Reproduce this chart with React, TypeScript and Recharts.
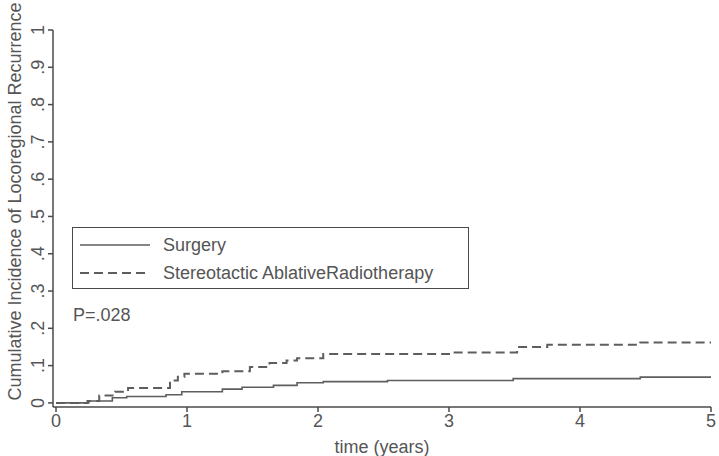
import React from 'react';
import { LineChart, Line, XAxis, YAxis } from 'recharts';

// time points (years) and cumulative incidence at each step
const surgeryYears = [0, 0.25, 0.43, 0.54, 0.84, 0.96, 1.27, 1.42, 1.66, 1.84, 2.04, 2.53, 3.49, 4.46, 5];
const surgeryIncidence = [0, 0.005, 0.014, 0.017, 0.022, 0.03, 0.037, 0.042, 0.047, 0.054, 0.057, 0.06, 0.065, 0.069, 0.069];

const sabrYears = [0, 0.24, 0.33, 0.45, 0.55, 0.87, 0.93, 0.98, 1.27, 1.48, 1.63, 1.76, 1.84, 2.04, 3.0, 3.52, 3.75, 4.46, 5];
const sabrIncidence = [0, 0.005, 0.02, 0.03, 0.04, 0.06, 0.07, 0.078, 0.085, 0.096, 0.107, 0.114, 0.12, 0.131, 0.135, 0.15, 0.156, 0.162, 0.162];

const yearTicks = [0, 1, 2, 3, 4, 5];
const incidenceTicks = [0, 0.1, 0.2, 0.3, 0.4, 0.5, 0.6, 0.7, 0.8, 0.9, 1];
const incidenceTickLabels = ['0', '.1', '.2', '.3', '.4', '.5', '.6', '.7', '.8', '.9', '1'];

const seriesNames = ['Surgery', 'Stereotactic AblativeRadiotherapy'];
const pValueText = 'P=.028';

const surgery = surgeryYears.map((t, i) => ({ t, ci: surgeryIncidence[i] }));
const sabr = sabrYears.map((t, i) => ({ t, ci: sabrIncidence[i] }));

const FONT = '"Liberation Sans", Arial, sans-serif';
const INK = '#555';
const AXIS = '#4a4a4a';
const LINE = '#5e5e5e';
const DASH = '9 5';

// Stata-style y ticks: labels turned on their side
const YTick = ({ y, payload }: any) => {
  const label = incidenceTickLabels[incidenceTicks.indexOf(payload.value)];
  return (
    <text
      x={38}
      y={y}
      transform={`rotate(-90, 38, ${y})`}
      textAnchor="middle"
      dominantBaseline="central"
      fill={INK}
      fontSize={18}
      fontFamily={FONT}
    >
      {label}
    </text>
  );
};

export default function App() {
  return (
    <div style={{ position: 'relative', width: 719, height: 456, background: '#fff', fontFamily: FONT }}>
      <style>{'body{margin:0}'}</style>
      <LineChart width={719} height={456} margin={{ top: 30, right: 8, bottom: 0, left: 0 }}>
        <XAxis
          dataKey="t"
          type="number"
          domain={[-0.023, 5]}
          allowDataOverflow
          ticks={yearTicks}
          tickSize={5}
          tickMargin={2}
          height={49}
          stroke={AXIS}
          strokeWidth={1.5}
          tick={{ fill: INK, fontSize: 18, fontFamily: FONT }}
          label={{ value: 'time (years)', position: 'insideBottom', offset: 3, fill: INK, fontSize: 18, fontFamily: FONT }}
        />
        <YAxis
          type="number"
          domain={[-0.011, 1]}
          allowDataOverflow
          ticks={incidenceTicks}
          tickSize={5}
          width={53}
          stroke={AXIS}
          strokeWidth={1.5}
          tick={<YTick />}
          label={{
            value: 'Cumulative Incidence of Locoregional Recurrence',
            angle: -90,
            position: 'center',
            dx: -12,
            dy: -17,
            fill: INK,
            fontSize: 18,
            fontFamily: FONT,
          }}
        />
        <Line
          data={surgery}
          dataKey="ci"
          type="stepAfter"
          stroke={LINE}
          strokeWidth={1.6}
          dot={false}
          isAnimationActive={false}
        />
        <Line
          data={sabr}
          dataKey="ci"
          type="stepAfter"
          stroke={LINE}
          strokeWidth={2}
          strokeDasharray={DASH}
          dot={false}
          isAnimationActive={false}
        />
      </LineChart>

      {/* legend box */}
      <div
        style={{
          position: 'absolute',
          left: 72,
          top: 227,
          width: 395,
          height: 60,
          border: `1.5px solid ${AXIS}`,
          background: '#fff',
          color: INK,
          fontSize: 18,
          lineHeight: '28px',
        }}
      >
        {seriesNames.map((name, i) => (
          <div key={name} style={{ display: 'flex', alignItems: 'center', height: 28, marginTop: i === 0 ? 3 : 0 }}>
            <svg width={90} height={28} style={{ flex: 'none' }}>
              <line
                x1={7}
                x2={77}
                y1={14}
                y2={14}
                stroke={LINE}
                strokeWidth={i === 0 ? 1.6 : 2}
                strokeDasharray={i === 0 ? undefined : DASH}
              />
            </svg>
            <span>{name}</span>
          </div>
        ))}
      </div>

      <div style={{ position: 'absolute', left: 73, top: 303, fontSize: 18, color: INK, lineHeight: '24px' }}>
        {pValueText}
      </div>
    </div>
  );
}
